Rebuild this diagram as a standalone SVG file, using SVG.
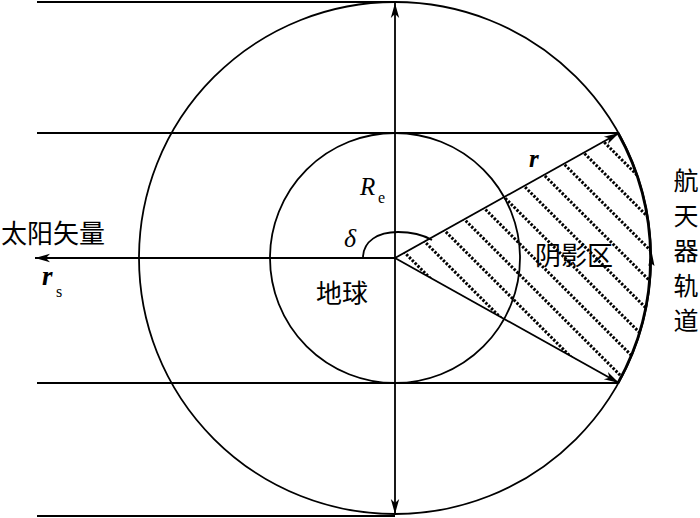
<svg xmlns="http://www.w3.org/2000/svg" width="700" height="518" viewBox="0 0 700 518">
<style>
.ln{stroke:#000;stroke-width:1.8;fill:none}
.hatch{stroke:#000;stroke-width:3;stroke-dasharray:2.4 1.6;fill:none}
.cjk{font-family:"Noto Sans CJK SC","Noto Sans CJK JP",sans-serif;fill:#000}
.math{font-family:"Liberation Serif",serif;font-style:italic;fill:#000}
</style>
<defs>
<marker id="arr" markerUnits="userSpaceOnUse" markerWidth="20" markerHeight="12" viewBox="-16 -6 18 12" refX="0" refY="0" orient="auto">
<path d="M0,0 L-15,-4.2 L-11,0 L-15,4.2 Z" fill="#000"/>
</marker>
<clipPath id="sector">
<path d="M395,258 L618,133 A256,256 0 0,1 618,383 Z"/>
</clipPath>
</defs>
<rect width="700" height="518" fill="#fff"/>
<g id="orbit"><circle cx="395" cy="258" r="256" class="ln"/></g>
<g id="earth"><circle cx="395" cy="258" r="125" class="ln"/></g>
<g id="shadow">
<g clip-path="url(#sector)" class="hatch">
<line x1="395" y1="243" x2="660" y2="508"/>
<line x1="395" y1="212" x2="660" y2="477"/>
<line x1="395" y1="181" x2="660" y2="446"/>
<line x1="395" y1="150" x2="660" y2="415"/>
<line x1="395" y1="119" x2="660" y2="384"/>
<line x1="395" y1="88" x2="660" y2="353"/>
<line x1="395" y1="57" x2="660" y2="322"/>
<line x1="395" y1="26" x2="660" y2="291"/>
<line x1="395" y1="-5" x2="660" y2="260"/>
<line x1="395" y1="-36" x2="660" y2="229"/>
<line x1="395" y1="-67" x2="660" y2="198"/>
</g>
</g>
<g id="connectors">
<line x1="37" y1="2" x2="395" y2="2" class="ln"/>
<line x1="37" y1="516" x2="395" y2="516" class="ln"/>
<line x1="37" y1="133" x2="618" y2="133" class="ln"/>
<line x1="37" y1="383" x2="618" y2="383" class="ln"/>
<line x1="395" y1="258" x2="395" y2="3" class="ln" marker-end="url(#arr)"/>
<line x1="395" y1="258" x2="395" y2="514" class="ln" marker-end="url(#arr)"/>
<line x1="395" y1="258" x2="35" y2="258" class="ln" marker-end="url(#arr)"/>
<line x1="395" y1="258" x2="619" y2="133" class="ln" marker-end="url(#arr)"/>
<line x1="395" y1="258" x2="619" y2="383" class="ln" marker-end="url(#arr)"/>
<path d="M618,383 A256,256 0 0,0 618,133" stroke="#000" stroke-width="2.8" fill="none"/>
<path d="M651.5,251 L648.3,266 L651.2,263.5 L654.5,266 Z" fill="#000"/>
<path d="M363,258 C363,241 378,232 398,232 C413,232 425,236 432,240" class="ln"/>
</g>
<g id="labels">
<text x="1" y="243" class="cjk" font-size="26">太阳矢量</text>
<text x="42" y="285" class="math" font-size="27" font-weight="bold">r</text>
<text x="56" y="297" font-family="Liberation Serif,serif" font-size="16">s</text>
<text x="529" y="167" class="math" font-size="25" font-weight="bold">r</text>
<text x="360" y="195" class="math" font-size="25">R</text>
<text x="378" y="203" font-family="Liberation Serif,serif" font-size="16">e</text>
<text x="344" y="247" class="math" font-size="26">δ</text>
<text x="316" y="303" class="cjk" font-size="26">地球</text>
<text x="535" y="265" class="cjk" font-size="26">阴影区</text>
<g class="cjk" font-size="25" text-anchor="middle">
<text x="686" y="190">航</text>
<text x="686" y="225">天</text>
<text x="686" y="260">器</text>
<text x="686" y="295">轨</text>
<text x="686" y="330">道</text>
</g>
</g>
</svg>
